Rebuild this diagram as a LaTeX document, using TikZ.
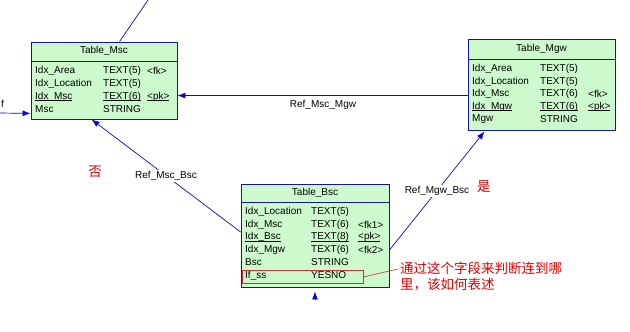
\documentclass[tikz,border=0pt]{standalone}
\usepackage{fontspec}
\setmainfont{Liberation Sans}
\newfontfamily\cjk{Noto Sans CJK SC}
\usetikzlibrary{arrows.meta,calc}
\definecolor{boxfill}{RGB}{204,250,204}
\definecolor{boxline}{RGB}{20,20,170}
\definecolor{linkblue}{RGB}{10,10,200}
\definecolor{noteRed}{RGB}{225,0,0}
\definecolor{rectRed}{RGB}{200,50,50}
\newcommand\ulx[1]{\setbox0\hbox{#1}\rlap{\rule[-1.6pt]{\wd0}{0.55pt}}\box0}
\begin{document}
\begin{tikzpicture}[x=1pt,y=-1pt,
  tbox/.style={draw=boxline,fill=boxfill,line width=0.9pt,inner sep=0pt,rectangle},
  ttl/.style={inner sep=0pt,text=black,font=\fontsize{10}{12}\selectfont},
  cell/.style={anchor=west,inner sep=0pt,text=black,font=\fontsize{10}{12}\selectfont},
  conn/.style={draw=linkblue,line width=0.7pt},
  arr/.style={-{Latex[length=8pt,width=6pt,fill=linkblue]}},
  lbl/.style={fill=white,text=black,inner sep=1.5pt,font=\fontsize{10}{12}\selectfont},
  redtxt/.style={text=noteRed,inner sep=0pt,font=\cjk\fontsize{13.5}{16}\selectfont}]
\useasboundingbox[fill=white] (0,0) rectangle (630,332);

% ---------- Table_Msc ----------
\node[tbox,minimum width=146pt,minimum height=77pt] (msc) at (104,80.5) {};
\draw[boxline,line width=0.9pt] (31,61) -- (177,61);
\node[ttl] (msct) at (104,51) {Table\_Msc};
\node[cell] (m1a) at (35,71) {Idx\_Area};
\node[cell] (m1b) at (103,71) {TEXT(5)};
\node[cell] (m1c) at (147,71) {<fk>};
\node[cell] (m2a) at (35,83.5) {Idx\_Location};
\node[cell] (m2b) at (103,83.5) {TEXT(5)};
\node[cell] (m3a) at (35,96.5) {\ulx{Idx\_Msc}};
\node[cell] (m3b) at (103,96.5) {\ulx{TEXT(6)}};
\node[cell] (m3c) at (147,96.5) {\ulx{<pk>}};
\node[cell] (m4a) at (35,109) {Msc};
\node[cell] (m4b) at (103,109) {STRING};

% ---------- Table_Mgw ----------
\node[tbox,minimum width=147pt,minimum height=91pt] (mgw) at (541.5,84.5) {};
\draw[boxline,line width=0.9pt] (468,59) -- (615,59);
\node[ttl] (mgwt) at (541.5,49) {Table\_Mgw};
\node[cell] (g1a) at (472,69) {Idx\_Area};
\node[cell] (g1b) at (540,69) {TEXT(5)};
\node[cell] (g2a) at (472,81.5) {Idx\_Location};
\node[cell] (g2b) at (540,81.5) {TEXT(5)};
\node[cell] (g3a) at (472,94) {Idx\_Msc};
\node[cell] (g3b) at (540,94) {TEXT(6)};
\node[cell] (g3c) at (588,94) {<fk>};
\node[cell] (g4a) at (472,106.5) {\ulx{Idx\_Mgw}};
\node[cell] (g4b) at (540,106.5) {\ulx{TEXT(6)}};
\node[cell] (g4c) at (588,106.5) {\ulx{<pk>}};
\node[cell] (g5a) at (472,119) {Mgw};
\node[cell] (g5b) at (540,119) {STRING};

% ---------- Table_Bsc ----------
\node[tbox,minimum width=148pt,minimum height=103pt] (bsc) at (315,235.5) {};
\draw[boxline,line width=0.9pt] (241,202) -- (389,202);
\node[ttl] (bsct) at (315,193) {Table\_Bsc};
\node[cell] (b1a) at (245,212) {Idx\_Location};
\node[cell] (b1b) at (311,212) {TEXT(5)};
\node[cell] (b2a) at (245,224.5) {Idx\_Msc};
\node[cell] (b2b) at (311,224.5) {TEXT(6)};
\node[cell] (b2c) at (358,224.5) {<fk1>};
\node[cell] (b3a) at (245,237) {\ulx{Idx\_Bsc}};
\node[cell] (b3b) at (311,237) {\ulx{TEXT(8)}};
\node[cell] (b3c) at (358,237) {\ulx{<pk>}};
\node[cell] (b4a) at (245,249.5) {Idx\_Mgw};
\node[cell] (b4b) at (311,249.5) {TEXT(6)};
\node[cell] (b4c) at (358,249.5) {<fk2>};
\node[cell] (b5a) at (245,262) {Bsc};
\node[cell] (b5b) at (311,262) {STRING};
\node[draw=rectRed,line width=0.8pt,minimum width=121pt,minimum height=13pt,inner sep=0pt] (ifss) at (302.5,277) {};
\node[cell] (b6a) at (245,275.5) {If\_ss};
\node[cell] (b6b) at (311,275.5) {YESNO};

% ---------- connectors ----------
\coordinate (topend) at (148,0);
\coordinate (leftend) at (0,113);
\coordinate (botend) at (315,299);
\node[inner sep=0pt,anchor=east,font=\fontsize{10}{12}\selectfont] (fcut) at (4,104) {f};

\draw[conn] ($(msc.north west)+(89,0)$) -- (topend);
\draw[conn,arr] (leftend) -- ($(msc.south west)+(0,-6)$);
\draw[conn,arr] ($(mgw.north west)+(0,57)$) -- ($(msc.north east)+(0,54)$);
\node[lbl] (lmm) at (323,105) {Ref\_Msc\_Mgw};
\draw[conn,arr] ($(bsc.west)+(0,-3.5)$) -- node[lbl] (lmb) {Ref\_Msc\_Bsc} ($(msc.south west)+(61,0)$);
\draw[conn,arr] ($(bsc.east)+(0,14.5)$) -- node[lbl] (lgb) {Ref\_Mgw\_Bsc} ($(mgw.south west)+(17,1)$);
\draw[conn,arr] (botend) -- ($(bsc.south)+(0,4)$);

% ---------- annotations ----------
\node[redtxt] (no) at (95,172) {否};
\node[redtxt,anchor=west] (yes) at (477,187) {是};
\node[redtxt,anchor=north west,align=left] (note) at (400,262) {通过这个字段来判断连到哪\\里，该如何表述};
\draw[rectRed,line width=0.6pt] (ifss.east) -- ($(note.north west)+(-2,7)$);
\end{tikzpicture}
\end{document}
